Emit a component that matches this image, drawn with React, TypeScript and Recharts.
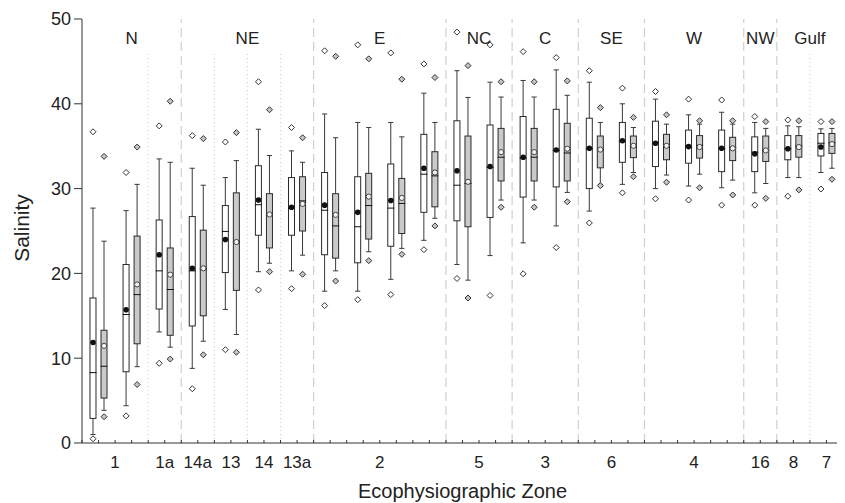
import React from 'react';
import { ComposedChart, XAxis, YAxis, Bar, Scatter, ReferenceLine, Label } from 'recharts';

// ---- categories ----
const pairZones = ['1', '1', '1a', '14a', '13', '14', '13a', '2', '2', '2', '2', '5', '5', '3', '3', '6', '6', '4', '4', '4', '16', '8', '7'];
const regions = ['N', 'NE', 'E', 'NC', 'C', 'SE', 'W', 'NW', 'Gulf'];
const regionPairCounts = [3, 4, 4, 2, 2, 2, 3, 1, 2];
const yTicks = [0, 10, 20, 30, 40, 50];

// ---- white (first) series ----
const wLowOut = [0.5, 3.2, 9.4, 6.4, 11.0, 18.05, 18.2, 16.2, 16.9, 17.5, 22.8, 19.4, 17.4, 19.95, 23.05, 25.95, 29.5, 28.8, 28.65, 28.05, 28.05, 29.1, 29.95];
const wLowCap = [1.0, 4.4, 13.1, 8.8, 15.75, 20.2, 20.3, 17.9, 17.9, 19.3, 23.9, 21.05, 22.1, 23.6, 25.6, 27.35, 30.5, 30.0, 30.3, 30.1, 29.5, 31.3, 31.9];
const wQ1 = [2.9, 8.4, 15.8, 13.8, 20.1, 24.5, 24.5, 22.2, 21.25, 23.2, 27.2, 26.2, 26.6, 29.0, 30.2, 30.0, 33.1, 32.6, 33.0, 32.0, 32.0, 33.4, 33.85];
const wMedian = [8.3, 15.15, 20.3, 20.3, 24.95, 28.1, 27.7, 27.45, 25.5, 27.7, 31.7, 30.4, 32.5, 33.6, 34.5, 34.7, 35.6, 35.4, 34.9, 34.7, 34.3, 34.7, 35.35];
const wQ3 = [17.1, 21.05, 26.3, 26.7, 28.0, 32.7, 31.3, 31.9, 31.4, 32.9, 36.4, 38.0, 37.5, 38.5, 39.35, 38.3, 37.8, 37.95, 36.9, 36.9, 36.1, 36.25, 36.5];
const wHighCap = [27.7, 27.4, 33.5, 32.4, 31.3, 37.0, 34.45, 38.8, 37.8, 37.8, 41.25, 43.9, 42.55, 42.75, 44.0, 42.55, 40.0, 40.55, 38.7, 39.0, 37.8, 37.4, 37.05];
const wHighOut = [36.7, 31.9, 37.4, 36.25, 35.5, 42.6, 37.2, 46.25, 46.95, 46.0, 44.7, 48.45, 46.95, 46.15, 45.45, 43.9, 41.85, 41.45, 40.55, 40.45, 38.5, 38.1, 37.9];
const wMean = [11.85, 15.7, 22.2, 20.6, 24.0, 28.65, 27.8, 28.05, 27.2, 28.6, 32.4, 32.1, 32.6, 33.7, 34.55, 34.75, 35.65, 35.35, 34.95, 34.75, 34.1, 34.7, 34.9];

// ---- grey (second) series ----
const gLowOut = [3.1, 6.9, 9.9, 10.4, 10.7, 20.2, 19.9, 19.1, 21.5, 22.25, 25.6, 17.1, 27.8, 27.8, 28.45, 30.35, 31.4, 30.75, 30.1, 29.25, 28.85, 29.85, 31.1];
const gLowCap = [3.85, 9.0, 11.3, 12.0, 12.8, 21.2, 22.15, 20.3, 22.55, 22.95, 26.5, 19.2, 28.65, 28.65, 29.55, 30.5, 31.9, 31.6, 31.7, 31.0, 30.6, 31.3, 32.4];
const gQ1 = [5.3, 11.7, 12.7, 15.0, 18.0, 23.0, 25.0, 21.8, 24.05, 24.7, 27.85, 25.5, 30.9, 30.9, 30.9, 32.45, 33.65, 33.4, 33.6, 33.3, 33.2, 33.7, 34.15];
const gMedian = [9.05, 17.5, 18.1, 20.5, 23.7, 26.9, 28.55, 25.6, 28.0, 28.25, 31.5, 30.6, 33.7, 33.7, 34.2, 34.6, 35.0, 34.9, 35.1, 34.85, 34.5, 35.0, 35.4];
const gQ3 = [13.3, 24.4, 23.0, 25.1, 29.5, 29.4, 31.4, 29.4, 31.8, 31.2, 34.35, 36.2, 37.1, 37.1, 37.7, 36.2, 36.2, 36.4, 36.25, 36.05, 36.2, 36.25, 36.5];
const gHighCap = [23.8, 30.5, 33.1, 30.4, 33.3, 33.9, 33.1, 36.0, 37.2, 36.1, 37.8, 40.75, 40.8, 40.8, 41.0, 37.8, 37.2, 37.6, 37.6, 37.6, 37.1, 37.3, 37.1];
const gHighOut = [33.8, 34.9, 40.3, 35.9, 36.6, 39.3, 36.0, 45.6, 45.3, 42.9, 43.1, 44.5, 42.6, 42.6, 42.7, 39.55, 38.4, 38.7, 38.0, 38.0, 37.9, 38.0, 37.9];
const gMean = [11.45, 18.7, 19.85, 20.6, 23.7, 26.95, 28.2, 26.9, 29.05, 28.9, 31.9, 30.8, 34.3, 34.3, 34.7, 34.6, 35.05, 35.05, 34.9, 34.75, 34.5, 34.9, 35.25];

// ---- derived tables ----
const WHITE_POS = 1 / 3;
const GREY_POS = 2 / 3;
const PAIRS = pairZones.length;

const rows = pairZones.map((z, i) => ({
  xw: i + WHITE_POS,
  xg: i + GREY_POS,
  wWhisk: [wLowCap[i], wHighCap[i]],
  wBox: [wQ1[i], wQ3[i]],
  wMed: wMedian[i],
  wMean: wMean[i],
  gWhisk: [gLowCap[i], gHighCap[i]],
  gBox: [gQ1[i], gQ3[i]],
  gMed: gMedian[i],
  gMean: gMean[i],
}));

const wOutliers = pairZones.flatMap((z, i) => [
  { xw: i + WHITE_POS, y: wLowOut[i] },
  { xw: i + WHITE_POS, y: wHighOut[i] },
]);
const gOutliers = pairZones.flatMap((z, i) => [
  { xg: i + GREY_POS, y: gLowOut[i] },
  { xg: i + GREY_POS, y: gHighOut[i] },
]);

// zone centres and boundaries
const zoneRuns: { label: string; start: number; end: number }[] = [];
pairZones.forEach((z, i) => {
  const last = zoneRuns[zoneRuns.length - 1];
  if (last && last.label === z) last.end = i + 1;
  else zoneRuns.push({ label: z, start: i, end: i + 1 });
});
const zoneCenterLabel: Record<string, string> = {};
zoneRuns.forEach((r) => {
  zoneCenterLabel[String((r.start + r.end) / 2)] = r.label;
});

const regionBounds: number[] = [];
const regionRows: { x: number; y: number; label: string }[] = [];
let acc = 0;
regions.forEach((r, i) => {
  const s = acc;
  acc += regionPairCounts[i];
  regionRows.push({ x: (s + acc) / 2, y: 47.75, label: r });
  if (i < regions.length - 1) regionBounds.push(acc);
});
const zoneBounds = zoneRuns.map((r) => r.end).filter((e) => e < PAIRS && !regionBounds.includes(e));

const halfTicks = Array.from({ length: PAIRS * 2 + 1 }, (_, i) => i / 2);

// ---- shapes ----
const FONT = '"Liberation Sans", Arial, Helvetica, sans-serif';

const WhiskerShape = (props: any) => {
  const { x, y, width, height } = props;
  if (x == null || y == null) return null;
  const cx = x + width / 2;
  const top = Math.min(y, y + height);
  const bot = Math.max(y, y + height);
  return (
    <g stroke="#3a3a3a" strokeWidth={1}>
      <line x1={cx} x2={cx} y1={top} y2={bot} />
      <line x1={cx - 2.6} x2={cx + 2.6} y1={top} y2={top} />
      <line x1={cx - 2.6} x2={cx + 2.6} y1={bot} y2={bot} />
    </g>
  );
};

const makeBoxShape = (fill: string) => (props: any) => {
  const { x, y, width, height } = props;
  if (x == null || y == null) return null;
  const top = Math.min(y, y + height);
  const h = Math.abs(height);
  return <rect x={x + 0.5} y={top} width={width - 1} height={h} fill={fill} stroke="#2a2a2a" strokeWidth={1} />;
};
const WhiteBox = makeBoxShape('#ffffff');
const GreyBox = makeBoxShape('#cacaca');

const MedianShape = (props: any) => {
  const { cx, cy } = props;
  if (cx == null || cy == null) return null;
  return <line x1={cx - 3.5} x2={cx + 3.5} y1={cy} y2={cy} stroke="#111" strokeWidth={1} />;
};

const WhiteMean = (props: any) => {
  const { cx, cy } = props;
  if (cx == null || cy == null) return null;
  return <circle cx={cx} cy={cy} r={2.8} fill="#111" />;
};
const GreyMean = (props: any) => {
  const { cx, cy } = props;
  if (cx == null || cy == null) return null;
  return <circle cx={cx} cy={cy} r={2.6} fill="#f2f2f2" stroke="#444" strokeWidth={1} />;
};

const makeDiamond = (fill: string) => (props: any) => {
  const { cx, cy } = props;
  if (cx == null || cy == null) return null;
  const d = 3;
  return (
    <path
      d={`M${cx},${cy - d}L${cx + d},${cy}L${cx},${cy + d}L${cx - d},${cy}Z`}
      fill={fill}
      stroke="#333"
      strokeWidth={1}
    />
  );
};
const WhiteDiamond = makeDiamond('#ffffff');
const GreyDiamond = makeDiamond('#c4c4c4');

const RegionLabel = (props: any) => {
  const { cx, cy, payload } = props;
  if (cx == null || cy == null) return null;
  return (
    <text x={cx} y={cy} textAnchor="middle" dominantBaseline="central" fontSize={17} fill="#222" fontFamily={FONT}>
      {payload.label}
    </text>
  );
};

const XTick = (props: any) => {
  const { x, y, payload } = props;
  const label = zoneCenterLabel[String(payload.value)];
  return (
    <g>
      <line x1={x} x2={x} y1={y} y2={y - 3} stroke="#333" strokeWidth={1} />
      {label ? (
        <text x={x} y={y + 25} textAnchor="middle" fontSize={17} fill="#222" fontFamily={FONT}>
          {label}
        </text>
      ) : null}
    </g>
  );
};

const renderXTitle = (props: any) => {
  const vb = props.viewBox || {};
  return (
    <text x={vb.x + vb.width / 2} y={vb.y + 55} textAnchor="middle" fontSize={20} fill="#222" fontFamily={FONT}>
      Ecophysiographic Zone
    </text>
  );
};

const renderYTitle = (props: any) => {
  const vb = props.viewBox || {};
  const x = vb.x + 21;
  const y = vb.y + vb.height / 2 - 3;
  return (
    <text x={x} y={y} textAnchor="middle" fontSize={21} fill="#222" fontFamily={FONT} transform={`rotate(-90, ${x}, ${y})`}>
      Salinity
    </text>
  );
};

export default function App() {
  return (
    <div style={{ width: 837, height: 495, fontFamily: FONT }}>
      <ComposedChart width={837} height={495} data={rows} margin={{ top: 11, right: 2, bottom: 0, left: 0 }}>
        {/* hidden positioning axes */}
        <XAxis xAxisId="wWhiskAx" dataKey="xw" type="number" domain={[0, PAIRS]} hide height={0} allowDataOverflow />
        <XAxis xAxisId="wBoxAx" dataKey="xw" type="number" domain={[0, PAIRS]} hide height={0} allowDataOverflow />
        <XAxis xAxisId="gWhiskAx" dataKey="xg" type="number" domain={[0, PAIRS]} hide height={0} allowDataOverflow />
        <XAxis xAxisId="gBoxAx" dataKey="xg" type="number" domain={[0, PAIRS]} hide height={0} allowDataOverflow />
        {/* frame top */}
        <XAxis xAxisId="top" orientation="top" type="number" domain={[0, PAIRS]} tick={false} tickLine={false} height={0} axisLine={{ stroke: '#555' }} allowDataOverflow />
        {/* visible bottom axis */}
        <XAxis
          xAxisId="main"
          dataKey="x"
          type="number"
          domain={[0, PAIRS]}
          ticks={halfTicks}
          interval={0}
          tickLine={false}
          tickSize={0}
          tickMargin={0}
          tick={<XTick />}
          axisLine={{ stroke: '#333' }}
          height={60}
          allowDataOverflow
        >
          <Label content={renderXTitle} />
        </XAxis>

        <YAxis
          yAxisId="v"
          domain={[0, 50]}
          ticks={yTicks}
          interval={0}
          width={74}
          tickSize={8}
          tickMargin={3}
          tick={{ fontSize: 18, fill: '#222', fontFamily: FONT }}
          tickLine={{ stroke: '#333' }}
          axisLine={{ stroke: '#333' }}
          allowDataOverflow
        >
          <Label content={renderYTitle} />
        </YAxis>
        <YAxis yAxisId="right" orientation="right" domain={[0, 50]} width={0} tick={false} tickLine={false} axisLine={{ stroke: '#555' }} />

        {regionBounds.map((b) => (
          <ReferenceLine key={`r${b}`} xAxisId="main" yAxisId="v" x={b} stroke="#cfcfcf" strokeWidth={1.2} strokeDasharray="9 5" />
        ))}
        {zoneBounds.map((b) => (
          <ReferenceLine
            key={`z${b}`}
            xAxisId="main"
            yAxisId="v"
            segment={[{ x: b, y: 0 }, { x: b, y: 46 }]}
            stroke="#cccccc"
            strokeWidth={1}
            strokeDasharray="1 3"
          />
        ))}

        <Bar xAxisId="wWhiskAx" yAxisId="v" dataKey="wWhisk" barSize={7} shape={WhiskerShape} isAnimationActive={false} />
        <Bar xAxisId="gWhiskAx" yAxisId="v" dataKey="gWhisk" barSize={7} shape={WhiskerShape} isAnimationActive={false} />
        <Bar xAxisId="wBoxAx" yAxisId="v" dataKey="wBox" barSize={7} shape={WhiteBox} isAnimationActive={false} />
        <Bar xAxisId="gBoxAx" yAxisId="v" dataKey="gBox" barSize={7} shape={GreyBox} isAnimationActive={false} />

        <Scatter xAxisId="wBoxAx" yAxisId="v" dataKey="wMed" shape={MedianShape} isAnimationActive={false} />
        <Scatter xAxisId="gBoxAx" yAxisId="v" dataKey="gMed" shape={MedianShape} isAnimationActive={false} />
        <Scatter xAxisId="wBoxAx" yAxisId="v" dataKey="wMean" shape={WhiteMean} isAnimationActive={false} />
        <Scatter xAxisId="gBoxAx" yAxisId="v" dataKey="gMean" shape={GreyMean} isAnimationActive={false} />
        <Scatter xAxisId="wWhiskAx" yAxisId="v" data={wOutliers} dataKey="y" shape={WhiteDiamond} isAnimationActive={false} />
        <Scatter xAxisId="gWhiskAx" yAxisId="v" data={gOutliers} dataKey="y" shape={GreyDiamond} isAnimationActive={false} />
        <Scatter xAxisId="main" yAxisId="v" data={regionRows} dataKey="y" shape={RegionLabel} isAnimationActive={false} />
      </ComposedChart>
    </div>
  );
}
